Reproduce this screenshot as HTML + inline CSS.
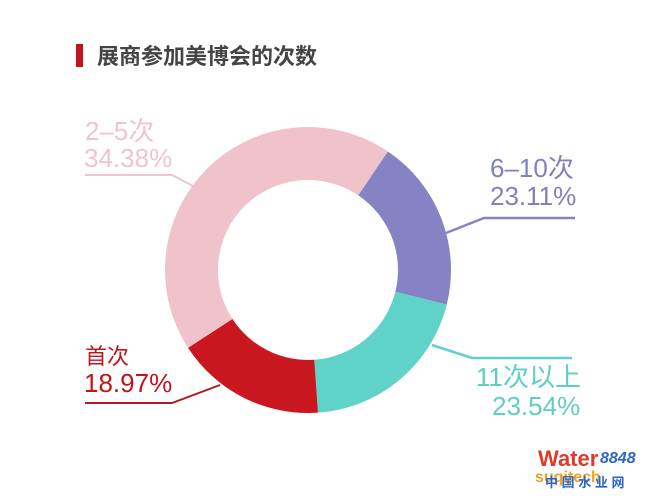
<!DOCTYPE html>
<html><head><meta charset="utf-8"><style>
html,body{margin:0;padding:0;background:#fff;}
svg{display:block;}
text{font-family:"Liberation Sans","Noto Sans CJK SC",sans-serif;}
</style></head><body>
<svg id="s" width="672" height="496" viewBox="0 0 672 496" xmlns="http://www.w3.org/2000/svg">
<rect width="672" height="496" fill="#fff"/>
<rect x="76" y="44" width="7" height="23" fill="#c0151d"/>
<text x="97" y="64" font-size="22" font-weight="bold" fill="#444" font-family="'Noto Sans CJK SC',sans-serif">展商参加美博会的次数</text>
<g id="donut"></g>
<polyline points="85,175 172,175 193,186" fill="none" stroke="#f0c4cc" stroke-width="2"/>
<polyline points="446,233 484,218 575,218" fill="none" stroke="#8683c4" stroke-width="2.5"/>
<polyline points="432,345 472,358 572,358" fill="none" stroke="#5fd1c6" stroke-width="2.5"/>
<polyline points="220,385 172,403 85,403" fill="none" stroke="#b01a24" stroke-width="2"/>
<g font-size="26">
<text x="85" y="140" fill="#f0c4cc">2–5次</text>
<text x="84" y="167" fill="#f0c4cc">34.38%</text>
<text x="490" y="177" fill="#8280bd">6–10次</text>
<text x="490" y="205" fill="#8280bd">23.11%</text>
<text x="476" y="386" fill="#5fcfc3">11次以上</text>
<text x="492" y="415" fill="#5fcfc3">23.54%</text>
<text x="85" y="364" fill="#c0151d" font-family="'Noto Sans CJK SC',sans-serif" font-size="22">首次</text>
<text x="84" y="392" fill="#c0151d">18.97%</text>
</g>
<g font-weight="bold" font-style="italic">
<text x="538" y="466" font-size="22" fill="#e23a2a" font-style="normal">Water</text>
<text x="600" y="463" font-size="16" fill="#2a66c9" font-family="'Liberation Serif',serif">8848</text>
<text x="535" y="482" font-size="16" fill="#f0a020" font-style="normal">suqitech</text>
<text x="545" y="487" font-size="13" fill="#2a66c9" font-style="normal" font-family="'Noto Sans CJK SC',sans-serif">中 国 水 业 网</text>
</g>
</svg>
<script>
var cx=308,cy=270,R=143,r=90;
function p(a,rad){var t=a*Math.PI/180;return [(cx+rad*Math.sin(t)).toFixed(2),(cy-rad*Math.cos(t)).toFixed(2)];}
function seg(a0,a1,c){var l=(a1-a0)>180?1:0;var A=p(a0,R),B=p(a1,R),C=p(a1,r),D=p(a0,r);
return '<path fill="'+c+'" d="M'+A+' A'+R+','+R+' 0 '+l+' 1 '+B+' L'+C+' A'+r+','+r+' 0 '+l+' 0 '+D+' Z"/>';}
document.getElementById('donut').innerHTML=
seg(-123,34,'#f0c3cb')+seg(34,104,'#8683c4')+seg(104,176,'#5fd3c8')+seg(176,237,'#c8171e');
</script>
</body></html>
